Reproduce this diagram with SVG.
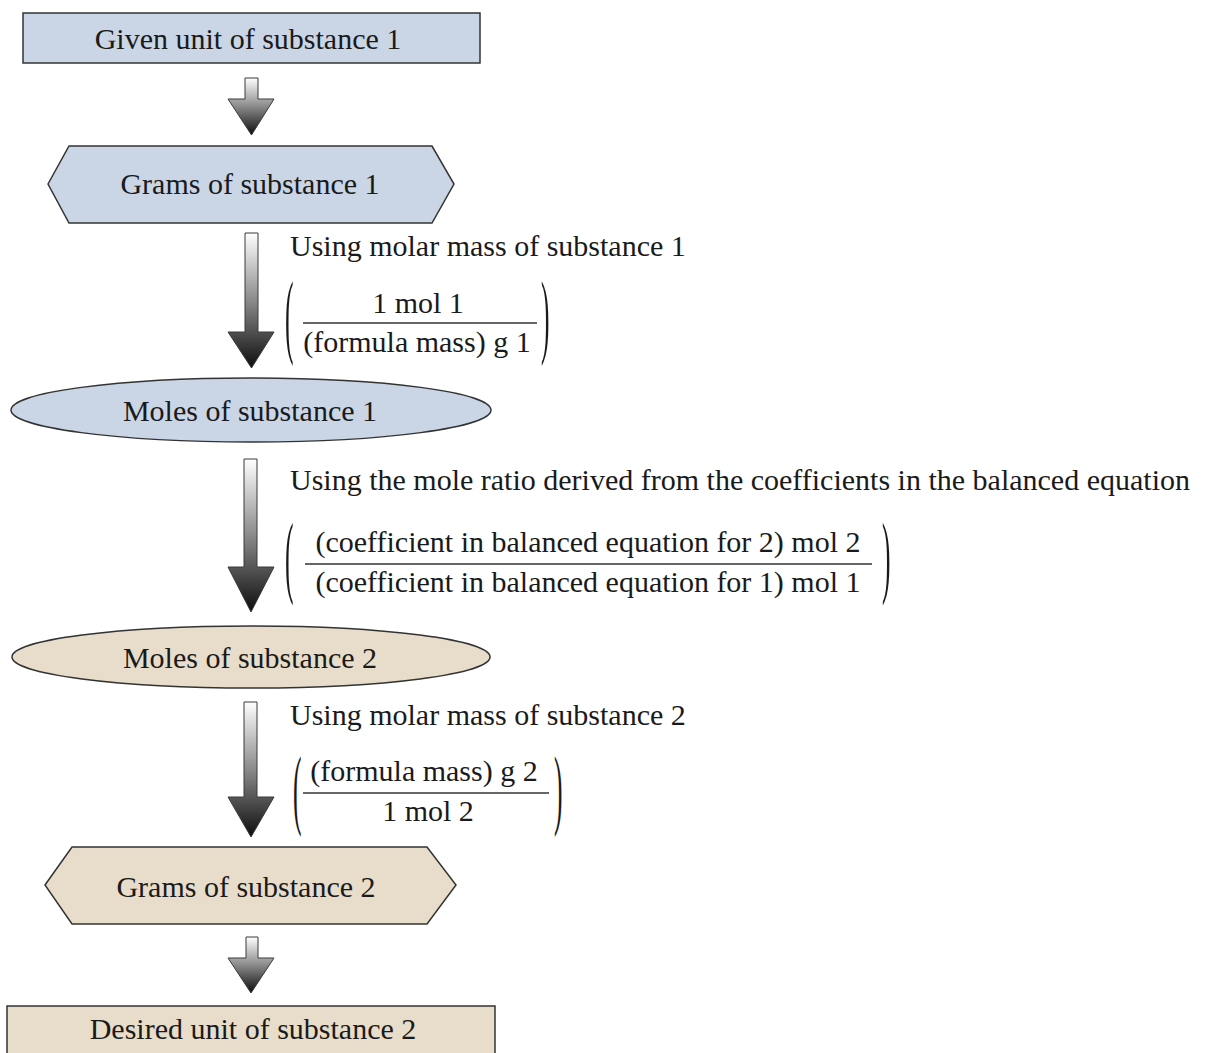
<svg xmlns="http://www.w3.org/2000/svg" width="1218" height="1053" viewBox="0 0 1218 1053" font-family="'Liberation Serif', 'DejaVu Serif', serif">
<defs>
<linearGradient id="ag" x1="0" y1="0" x2="0" y2="1">
<stop offset="0" stop-color="#ffffff"/>
<stop offset="0.5" stop-color="#8a8a8a"/>
<stop offset="1" stop-color="#0d0d0d"/>
</linearGradient>
<style>
text{font-family:'Liberation Serif','DejaVu Serif',serif;font-size:30px;fill:#1a1a1a}
.c{text-anchor:middle}
.blue{fill:#cad5e6;stroke:#333;stroke-width:1.5}
.tan{fill:#e8ddca;stroke:#333;stroke-width:1.5}
.arr{fill:url(#ag);stroke:#3a3a3a;stroke-width:1}
.fl{stroke:#333;stroke-width:1.5}
</style>
</defs>
<rect width="1218" height="1053" fill="#ffffff"/>
<g id="connectors">
<polygon class="arr" points="245,78 258,78 258,99 274,99 251.5,135 228,99 245,99"/>
<polygon class="arr" points="245,233 258,233 258,332 274,332 251.5,368 228,332 245,332"/>
<polygon class="arr" points="244,459 257,459 257,567 274,567 251,612 228,567 244,567"/>
<polygon class="arr" points="244,702 257,702 257,797 274,797 251,837 228,797 244,797"/>
<polygon class="arr" points="246,937 258,937 258,958 274,958 251,993 228,958 246,958"/>
</g>
<g id="label1">
<text x="290" y="256">Using molar mass of substance 1</text>
<text transform="translate(285,346) scale(0.85,3.1)">(</text>
<text class="c" x="418" y="313">1 mol 1</text>
<line class="fl" x1="303" y1="323" x2="537" y2="323"/>
<text class="c" x="417" y="352">(formula mass) g 1</text>
<text transform="translate(541,346) scale(0.85,3.1)">)</text>
</g>
<g id="label2">
<text x="290" y="490">Using the mole ratio derived from the coefficients in the balanced equation</text>
<text transform="translate(285,586) scale(0.85,3.05)">(</text>
<text class="c" x="588" y="552">(coefficient in balanced equation for 2) mol 2</text>
<line class="fl" x1="305" y1="564" x2="872" y2="564"/>
<text class="c" x="588" y="592">(coefficient in balanced equation for 1) mol 1</text>
<text transform="translate(882,586) scale(0.85,3.05)">)</text>
</g>
<g id="label3">
<text x="290" y="725">Using molar mass of substance 2</text>
<text transform="translate(293,818) scale(0.85,2.95)">(</text>
<text class="c" x="424" y="781">(formula mass) g 2</text>
<line class="fl" x1="303" y1="793" x2="549" y2="793"/>
<text class="c" x="428" y="821">1 mol 2</text>
<text transform="translate(554,818) scale(0.85,2.95)">)</text>
</g>
<g id="node-given">
<rect class="blue" x="23" y="13" width="457" height="50"/>
<text class="c" x="248" y="49">Given unit of substance 1</text>
</g>
<g id="node-grams1">
<polygon class="blue" points="48,184 69,146 432,146 454,184 432,223 69,223"/>
<text class="c" x="250" y="194">Grams of substance 1</text>
</g>
<g id="node-moles1">
<ellipse class="blue" cx="251" cy="410" rx="240" ry="32"/>
<text class="c" x="250" y="421">Moles of substance 1</text>
</g>
<g id="node-moles2">
<ellipse class="tan" cx="251" cy="657" rx="239" ry="31"/>
<text class="c" x="250" y="668">Moles of substance 2</text>
</g>
<g id="node-grams2">
<polygon class="tan" points="45,885 72,847 427,847 456,885 427,924 72,924"/>
<text class="c" x="246" y="897">Grams of substance 2</text>
</g>
<g id="node-desired">
<rect class="tan" x="7" y="1006" width="488" height="60"/>
<text class="c" x="253" y="1039">Desired unit of substance 2</text>
</g>
</svg>
